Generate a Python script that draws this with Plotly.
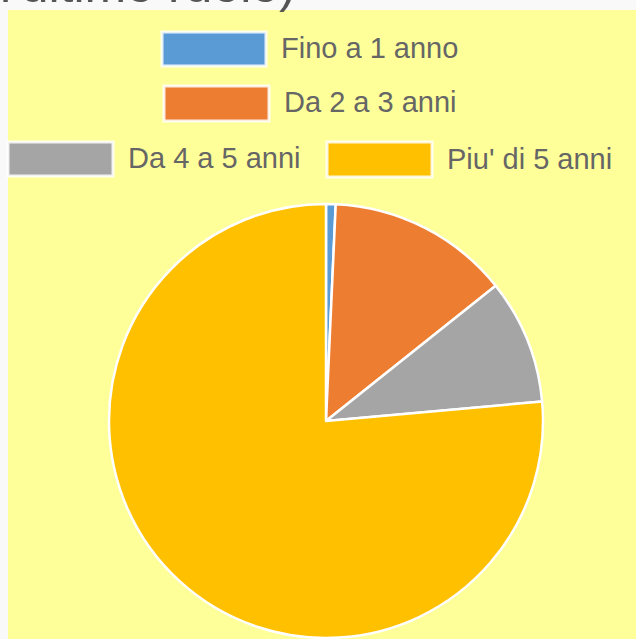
import plotly.graph_objects as go

# Data
labels = ["Fino a 1 anno", "Da 2 a 3 anni", "Da 4 a 5 anni", "Piu' di 5 anni"]
values = [1, 19, 13, 107]
colors = ["#5b9bd5", "#ed7d31", "#a5a5a5", "#ffc000"]
title_fragment = "l'ultimo ruolo)"

W, H = 636, 639

def px(x):
    return x / W

def py(y):
    return 1 - y / H

fig = go.Figure()
fig.add_trace(go.Pie(
    labels=labels,
    values=values,
    marker=dict(colors=colors, line=dict(color="white", width=2.5)),
    sort=False,
    direction="clockwise",
    rotation=0,
    textinfo="none",
    hoverinfo="label+value+percent",
    showlegend=False,
    domain=dict(x=[px(109), px(543)], y=[py(638), py(204)]),
))

shapes = [
    dict(type="rect", xref="paper", yref="paper",
         x0=px(8), x1=1, y0=0, y1=py(10),
         fillcolor="#ffff99", line=dict(width=0), layer="below")
]
annotations = [
    dict(text=title_fragment, xref="paper", yref="paper",
         x=px(-2), y=py(15), xanchor="left", yanchor="bottom",
         showarrow=False, font=dict(family="Arial, Liberation Sans", size=50, color="#555555"))
]

# legend layout (pixel boxes) - one per label
legend_boxes = [
    (162, 266, 32, 66),
    (164, 269, 86, 121),
    (8, 113, 142, 176),
    (327, 432, 142, 177),
]
for lab, col, (x0, x1, y0, y1) in zip(labels, colors, legend_boxes):
    shapes.append(dict(type="rect", xref="paper", yref="paper",
                       x0=px(x0), x1=px(x1), y0=py(y1), y1=py(y0),
                       fillcolor=col, line=dict(color="rgba(255,255,255,0.85)", width=3)))
    annotations.append(dict(text=lab, xref="paper", yref="paper",
                            x=px(x1 + 13), y=py((y0 + y1) / 2 - 1),
                            xanchor="left", yanchor="middle", showarrow=False,
                            font=dict(family="Arial, Liberation Sans", size=29, color="#666666")))

fig.update_layout(
    width=W, height=H,
    margin=dict(l=0, r=0, t=0, b=0),
    paper_bgcolor="#f9f9f9",
    plot_bgcolor="#f9f9f9",
    shapes=shapes,
    annotations=annotations,
    showlegend=False,
)

fig.write_html(
    "out.html",
    config={"displayModeBar": False},
    post_script="document.body.style.margin='0';document.body.style.overflow='hidden';document.body.style.background='#f9f9f9';",
)
